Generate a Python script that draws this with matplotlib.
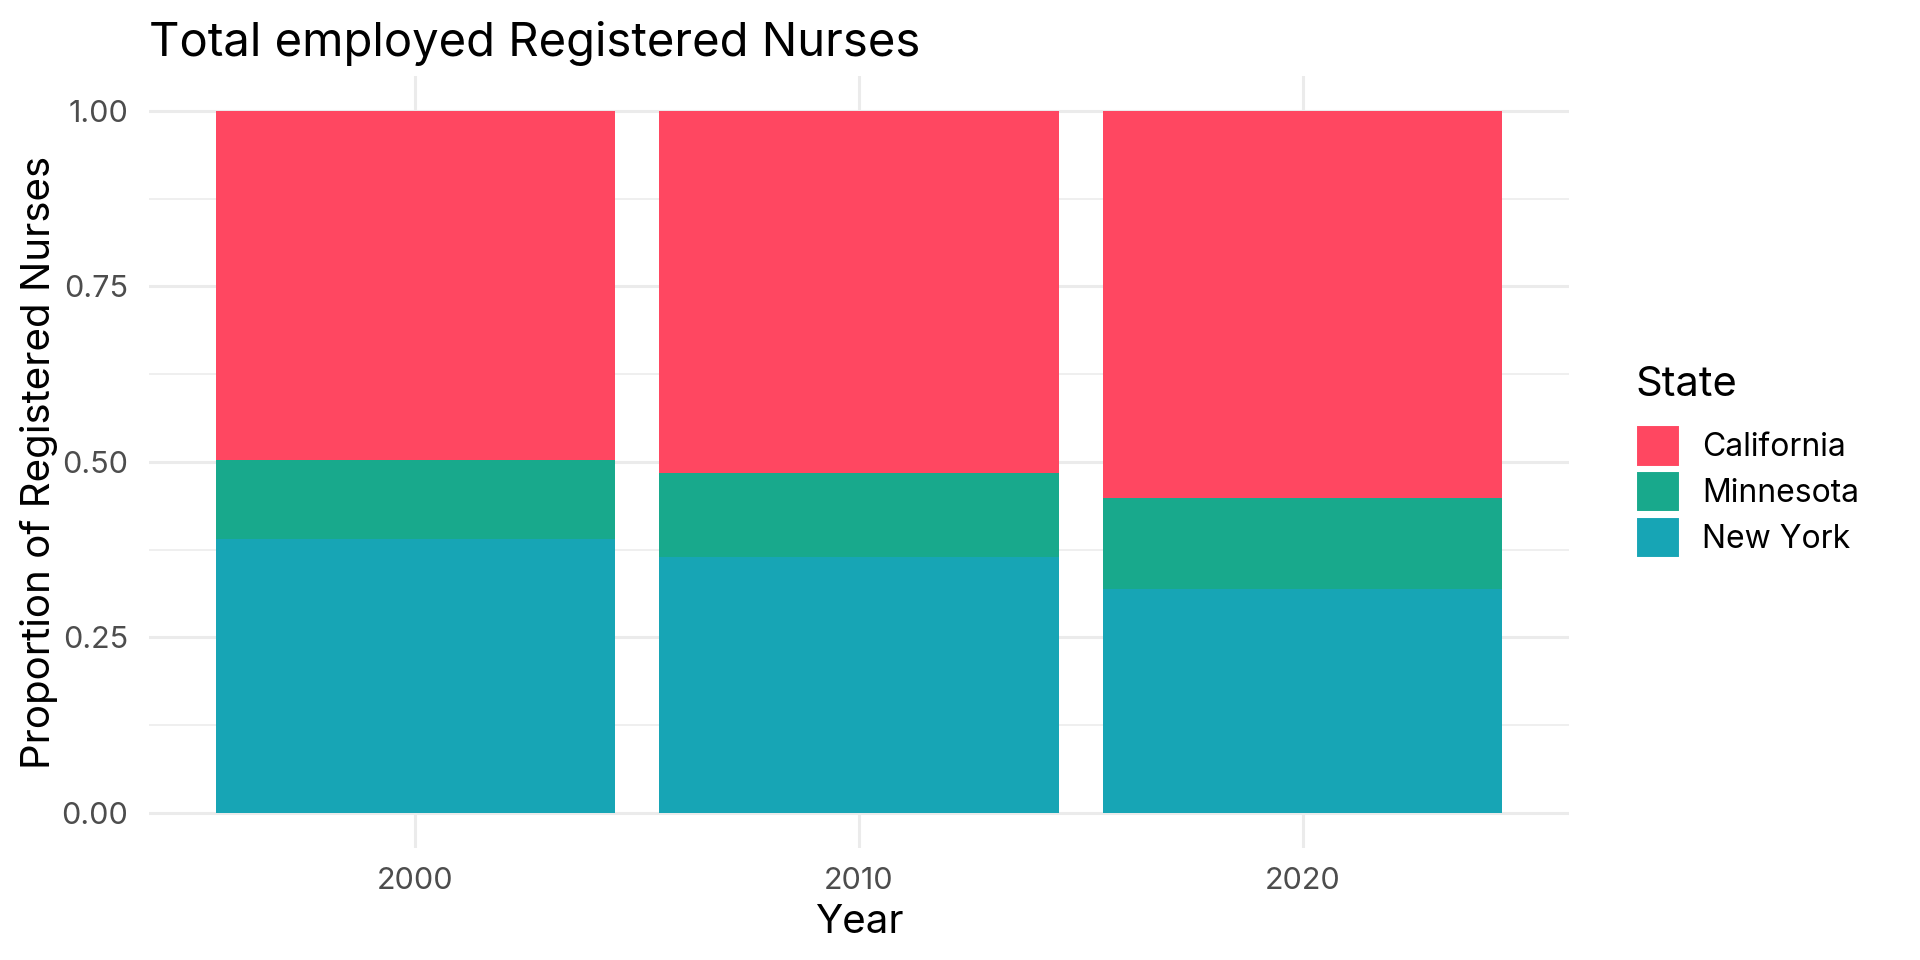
import numpy as np
import matplotlib
matplotlib.use("Agg")
from matplotlib import pyplot as plt
from matplotlib.patches import Patch

years = ["2000", "2010", "2020"]
states = ["California", "Minnesota", "New York"]
new_york = [0.390, 0.364, 0.319]
minnesota = [0.113, 0.120, 0.129]
california = [0.497, 0.516, 0.552]

colors = {"California": "#FF4761", "Minnesota": "#18A98C", "New York": "#17A5B5"}

plt.rcParams['font.family'] = ['Inter', 'DejaVu Sans']

fig = plt.figure(figsize=(19.2, 9.6), dpi=100)
ax = fig.add_axes([0.0776, 0.1167, 0.7396, 0.8042])

x = np.arange(len(years))
ax.bar(x, new_york, width=0.9, color=colors["New York"], zorder=2)
ax.bar(x, minnesota, width=0.9, bottom=new_york, color=colors["Minnesota"], zorder=2)
bottom_ca = np.array(new_york) + np.array(minnesota)
ax.bar(x, california, width=0.9, bottom=bottom_ca, color=colors["California"], zorder=2)

ax.set_xlim(-0.6, 2.6)
ax.set_ylim(-0.05, 1.05)
ax.set_xticks(x)
ax.set_xticklabels(years)
ax.set_yticks([0, 0.25, 0.5, 0.75, 1.0])
ax.set_yticklabels(["0.00", "0.25", "0.50", "0.75", "1.00"])
ax.set_yticks([0.125, 0.375, 0.625, 0.875], minor=True)

ax.grid(True, which="major", color="#EBEBEB", linewidth=2.2, zorder=0)
ax.grid(True, which="minor", axis="y", color="#EBEBEB", linewidth=1.1, zorder=0)
ax.set_axisbelow(True)
for s in ax.spines.values():
    s.set_visible(False)
ax.tick_params(which="both", length=0, labelsize=22, colors="#4D4D4D")
ax.tick_params(axis="y", pad=15)
ax.tick_params(axis="x", pad=14)

ax.set_xlabel("Year", fontsize=29, va="center")
ax.xaxis.set_label_coords(0.5, -0.097)
ax.set_ylabel("Proportion of Registered Nurses", fontsize=29, va="center")
ax.yaxis.set_label_coords(-0.0775, 0.5)
fig.text(0.0776, 0.942, "Total employed Registered Nurses", fontsize=34, ha="left", va="baseline")

# legend: title placed separately so the gap to the keys matches
fig.text(0.852, 0.599, "State", fontsize=30, ha="left", va="center")
handles = [Patch(facecolor=colors[s], edgecolor="white", linewidth=1.5) for s in states]
leg = fig.legend(handles, states, loc="upper left", bbox_to_anchor=(0.852, 0.5568),
                 frameon=False, fontsize=23, handlelength=1.38, handleheight=1.6,
                 labelspacing=0.15, handletextpad=0.7, borderpad=0, borderaxespad=0)

fig.savefig("out.png", dpi=100)
